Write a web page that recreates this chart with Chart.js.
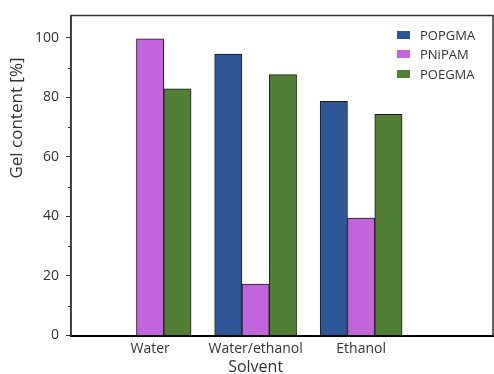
<!DOCTYPE html>
<html>
<head>
<meta charset="utf-8">
<script src="https://cdn.jsdelivr.net/npm/chart.js@4.4.0/dist/chart.umd.min.js"></script>
<style>
  html, body { margin: 0; padding: 0; background: #fff; }
  #wrap { position: relative; width: 494px; height: 374px; }
  #legend { position: absolute; left: 397px; top: 27px; font: 13px "Open Sans", sans-serif; color: #333; }
  #legend div { height: 19.3px; line-height: 16px; white-space: nowrap; }
  #legend span { display: inline-block; width: 13px; height: 8px; margin-right: 10px; vertical-align: 1px; }
</style>
</head>
<body>
<div id="wrap">
  <canvas id="chart1" width="494" height="374"></canvas>
  <div id="legend"></div>
</div>
<script>
// 資料
var solvents = ['Water', 'Water/ethanol', 'Ethanol'];
var popgma = [null, 94.5, 78.6];
var pnipam = [99.6, 17.3, 39.4];
var poegma = [82.8, 87.6, 74.3];
var yTicks = [0, 20, 40, 60, 80, 100];

var seriesNames = ['POPGMA', 'PNiPAM', 'POEGMA'];
var seriesColors = ['#2e5596', '#c264dc', '#518034'];

function toPoints(arr) {
    return arr.map(function (v, i) { return { x: i + 1, y: v }; });
}

var font = '"Open Sans", sans-serif';

// 外框、次刻度、軸標題
var framePlugin = {
    id: 'frame',
    afterDraw: function (chart) {
        var c = chart.ctx, a = chart.chartArea;
        var ys = chart.scales.y, xs = chart.scales.x;
        c.save();
        c.strokeStyle = '#333';
        c.lineWidth = 1.5;
        c.beginPath();
        c.moveTo(a.left, a.bottom);
        c.lineTo(a.left, a.top);
        c.lineTo(a.right, a.top);
        c.lineTo(a.right, a.bottom);
        c.stroke();
        // minor ticks
        c.lineWidth = 1;
        for (var v = 10; v < 107; v += 20) {
            var py = Math.round(ys.getPixelForValue(v)) + 0.5;
            c.beginPath();
            c.moveTo(a.left - 3, py);
            c.lineTo(a.left, py);
            c.stroke();
        }
        c.fillStyle = '#333';
        c.textAlign = 'center';
        c.textBaseline = 'middle';
        c.font = '16px ' + font;
        c.fillText('Solvent', xs.getPixelForValue(2), 367);
        c.translate(17, 118);
        c.rotate(-Math.PI / 2);
        c.font = '17px ' + font;
        c.fillText('Gel content [%]', 0, 0);
        c.restore();
    }
};

var ctx = document.getElementById('chart1');
var chart = new Chart(ctx, {
    type: 'bar',
    data: {
        datasets: seriesNames.map(function (name, k) {
            return {
                label: name,
                data: toPoints([popgma, pnipam, poegma][k]),
                backgroundColor: seriesColors[k],
                borderColor: '#1a1a1a',
                borderWidth: 1,
                barThickness: 27.3
            };
        })
    },
    options: {
        responsive: false,
        animation: false,
        layout: { padding: { top: 15, right: 1, left: 0, bottom: 0 } },
        plugins: { legend: { display: false }, tooltip: { enabled: false } },
        scales: {
            x: {
                type: 'linear',
                offset: false,
                bounds: 'data',
                min: 0.25,
                max: 4.25,
                afterBuildTicks: function (s) {
                    s.ticks = solvents.map(function (n, i) { return { value: i + 1 }; });
                },
                afterFit: function (s) { s.height = 38.5; },
                grid: { display: false, drawTicks: false, offset: false },
                border: { display: true, color: '#000', width: 2 },
                ticks: {
                    padding: 5,
                    color: '#333',
                    font: { family: font, size: 14 },
                    maxRotation: 0,
                    autoSkip: false,
                    callback: function (v) { return solvents[v - 1] || ''; }
                }
            },
            y: {
                min: 0,
                max: 107.5,
                afterBuildTicks: function (s) {
                    s.ticks = yTicks.map(function (v) { return { value: v }; });
                },
                afterFit: function (s) { s.width = 71; },
                grid: { drawOnChartArea: false, tickLength: 5, color: '#333', tickWidth: 1 },
                border: { display: true, color: '#333', width: 1.5 },
                ticks: {
                    padding: 7,
                    color: '#333',
                    font: { family: font, size: 14 }
                }
            }
        }
    },
    plugins: [framePlugin]
});

// 圖例
var legend = document.getElementById('legend');
seriesNames.forEach(function (name, k) {
    var row = document.createElement('div');
    row.innerHTML = '<span style="background:' + seriesColors[k] + '"></span>' + name;
    legend.appendChild(row);
});
</script>
</body>
</html>
